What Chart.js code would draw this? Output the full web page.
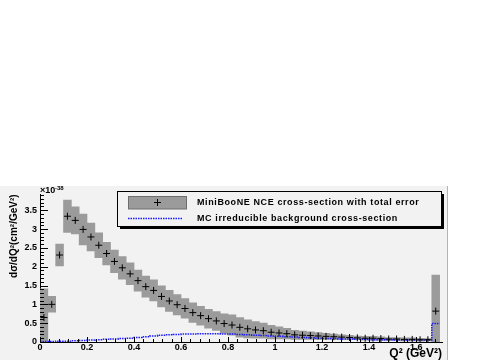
<!DOCTYPE html>
<html>
<head>
<meta charset="utf-8">
<script src="https://cdn.jsdelivr.net/npm/chart.js@4"></script>
<style>
    body { margin: 0; background: #fff; }
    #wrap { position: absolute; left: 0; top: 186px; width: 447px; height: 174px; background: #f2f2f2; border-right: 1px solid #b4b4b4; }
</style>
</head>
<body>
<div id="wrap"><canvas id="nce-chart" width="447" height="174"></canvas></div>
<script>
// Q^2 bin centres (GeV^2), bin width 1.7/51
var q2 = [0.0167, 0.05, 0.0833, 0.1167, 0.15, 0.1833, 0.2167, 0.25, 0.2833, 0.3167,
          0.35, 0.3833, 0.4167, 0.45, 0.4833, 0.5167, 0.55, 0.5833, 0.6167, 0.65,
          0.6833, 0.7167, 0.75, 0.7833, 0.8167, 0.85, 0.8833, 0.9167, 0.95, 0.9833,
          1.0167, 1.05, 1.0833, 1.1167, 1.15, 1.1833, 1.2167, 1.25, 1.2833, 1.3167,
          1.35, 1.3833, 1.4167, 1.45, 1.4833, 1.5167, 1.55, 1.5833, 1.6167, 1.65, 1.6833];
var binWidth = 0.0333;

// MiniBooNE NCE cross-section (x 1e-38 cm^2/GeV^2)
var xsec = [0.65, 1.00, 2.31, 3.34, 3.23, 2.99, 2.79, 2.57, 2.35, 2.14,
            1.97, 1.81, 1.63, 1.47, 1.37, 1.21, 1.09, 0.99, 0.89, 0.78,
            0.70, 0.62, 0.56, 0.49, 0.45, 0.39, 0.35, 0.32, 0.30, 0.26,
            0.24, 0.22, 0.19, 0.18, 0.17, 0.16, 0.15, 0.14, 0.13, 0.12,
            0.11, 0.10, 0.10, 0.09, 0.08, 0.08, 0.07, 0.07, 0.06, 0.06, 0.82];

// total error
var xsecErr = [0.76, 0.21, 0.29, 0.43, 0.36, 0.41, 0.37, 0.33, 0.30, 0.30,
               0.30, 0.29, 0.28, 0.28, 0.28, 0.28, 0.28, 0.27, 0.26, 0.26,
               0.25, 0.25, 0.25, 0.26, 0.27, 0.26, 0.24, 0.22, 0.20, 0.18,
               0.16, 0.14, 0.12, 0.11, 0.10, 0.09, 0.08, 0.07, 0.06, 0.06,
               0.05, 0.05, 0.05, 0.05, 0.04, 0.04, 0.04, 0.04, 0.04, 0.03, 0.96];

// MC irreducible background
var mcBkg = [0.01, 0.01, 0.02, 0.02, 0.03, 0.04, 0.05, 0.06, 0.07, 0.08,
             0.09, 0.10, 0.12, 0.14, 0.16, 0.18, 0.19, 0.20, 0.21, 0.21,
             0.22, 0.22, 0.22, 0.21, 0.21, 0.20, 0.19, 0.18, 0.17, 0.16,
             0.15, 0.14, 0.13, 0.12, 0.11, 0.10, 0.09, 0.09, 0.08, 0.08,
             0.07, 0.07, 0.06, 0.06, 0.06, 0.05, 0.05, 0.05, 0.05, 0.05, 0.49];

var legendLabels = ["MiniBooNE NCE cross-section with total error",
                    "MC irreducible background cross-section"];

var boldFont = '"Liberation Sans", Arial, Helvetica, sans-serif';

var errBoxes = q2.map(function (x, i) {
    return {x: x, y: [xsec[i] - xsecErr[i], xsec[i] + xsecErr[i]]};
});
var points = q2.map(function (x, i) { return {x: x, y: xsec[i]}; });
var mcSteps = [];
q2.forEach(function (x, i) {
    mcSteps.push({x: x - binWidth / 2, y: mcBkg[i]});
    mcSteps.push({x: x + binWidth / 2, y: mcBkg[i]});
});

// ROOT-like decorations: inside ticks, exponent label, boxed legend
var rootStyle = {
    id: 'rootStyle',
    afterDraw: function (chart) {
        var ctx = chart.ctx, area = chart.chartArea;
        var xs = chart.scales.x, ys = chart.scales.y;
        var k, v, p, len;
        ctx.save();
        ctx.strokeStyle = '#000';
        ctx.lineWidth = 1;
        ctx.beginPath();
        for (k = 0; k <= 39; k++) {
            v = k / 10;
            if (v > ys.max) break;
            p = Math.round(ys.getPixelForValue(v)) + 0.5;
            len = (k % 5 === 0) ? 8 : 4;
            ctx.moveTo(area.left, p);
            ctx.lineTo(area.left + len, p);
        }
        for (k = 0; k <= 42; k++) {
            v = k * 0.04;
            if (v > xs.max) break;
            p = Math.round(xs.getPixelForValue(v)) + 0.5;
            len = (k % 5 === 0) ? 5 : 3;
            ctx.moveTo(p, area.bottom);
            ctx.lineTo(p, area.bottom - len);
        }
        ctx.stroke();

        // x10^-38
        ctx.fillStyle = '#000';
        ctx.textBaseline = 'middle';
        ctx.textAlign = 'left';
        ctx.font = 'bold 9px ' + boldFont;
        ctx.fillText('\u00d710', 40, 5);
        ctx.font = 'bold 6px ' + boldFont;
        ctx.fillText('-38', 55, 2);

        // legend
        var lx = 117, ly = 5, lw = 324, lh = 35;
        ctx.fillStyle = '#000';
        ctx.fillRect(lx + 3, ly + 3, lw, lh);
        ctx.fillStyle = '#f2f2f2';
        ctx.fillRect(lx, ly, lw, lh);
        ctx.strokeRect(lx + 0.5, ly + 0.5, lw, lh);

        ctx.fillStyle = '#9b9b9b';
        ctx.fillRect(128, 10.5, 58, 12.5);
        ctx.strokeStyle = '#6e6e6e';
        ctx.strokeRect(128.5, 10.5, 58, 12.5);
        ctx.strokeStyle = '#000';
        ctx.beginPath();
        ctx.moveTo(154, 16.5); ctx.lineTo(161, 16.5);
        ctx.moveTo(157.5, 13); ctx.lineTo(157.5, 20);
        ctx.stroke();

        ctx.strokeStyle = '#1a1aff';
        ctx.lineWidth = 1.5;
        ctx.setLineDash([1.5, 1]);
        ctx.beginPath();
        ctx.moveTo(128, 32.5); ctx.lineTo(182, 32.5);
        ctx.stroke();
        ctx.setLineDash([]);

        ctx.fillStyle = '#000';
        ctx.font = 'bold 9px ' + boldFont;
        ctx.letterSpacing = '0.6px';
        ctx.fillText(legendLabels[0], 197, 16.5);
        ctx.fillText(legendLabels[1], 197, 32.5);
        ctx.restore();
    }
};

var nceChart = new Chart(document.getElementById('nce-chart'), {
    type: 'bar',
    data: {
        datasets: [
            {
                type: 'bar',
                label: legendLabels[0],
                data: errBoxes,
                backgroundColor: '#9b9b9b',
                borderWidth: 0,
                barPercentage: 1,
                categoryPercentage: 1,
                order: 3
            },
            {
                type: 'line',
                label: legendLabels[1],
                data: mcSteps,
                borderColor: '#1a1aff',
                borderWidth: 1.5,
                borderDash: [1.5, 1],
                pointRadius: 0,
                tension: 0,
                fill: false,
                order: 2
            },
            {
                type: 'line',
                label: 'points',
                data: points,
                showLine: false,
                pointStyle: 'cross',
                pointRadius: 3.5,
                pointBorderColor: '#000',
                pointBorderWidth: 1,
                order: 1
            }
        ]
    },
    options: {
        responsive: false,
        animation: false,
        devicePixelRatio: 1,
        layout: { padding: { top: 7, right: 1, left: 0, bottom: 0 } },
        plugins: {
            legend: { display: false },
            tooltip: { enabled: false }
        },
        scales: {
            x: {
                type: 'linear',
                min: 0,
                max: 1.71,
                offset: false,
                grid: { display: false, drawTicks: false },
                border: { display: true, color: '#000', width: 1 },
                ticks: {
                    stepSize: 0.2,
                    includeBounds: false,
                    autoSkip: false,
                    maxRotation: 0,
                    padding: 0,
                    color: '#000',
                    font: { family: boldFont, size: 9, weight: 'bold' },
                    callback: function (v) { return Math.round(v * 10) / 10; }
                },
                title: {
                    display: true,
                    text: 'Q\u00b2 (GeV\u00b2)',
                    align: 'end',
                    color: '#000',
                    font: { family: boldFont, size: 12, weight: 'bold', lineHeight: 1 },
                    padding: { top: 0, bottom: 0 }
                },
                afterFit: function (scale) { scale.height = 18; }
            },
            y: {
                min: 0,
                max: 3.92,
                grid: { display: false, drawTicks: false },
                border: { display: true, color: '#000', width: 1 },
                ticks: {
                    stepSize: 0.5,
                    includeBounds: false,
                    padding: 3,
                    color: '#000',
                    font: { family: boldFont, size: 9, weight: 'bold' },
                    callback: function (v) { return Math.round(v * 10) / 10; }
                },
                title: {
                    display: true,
                    text: 'd\u03c3/dQ\u00b2(cm\u00b2/GeV\u00b2)',
                    align: 'end',
                    color: '#000',
                    font: { family: boldFont, size: 10, weight: 'bold' },
                    padding: { top: 8, bottom: 0 }
                },
                afterFit: function (scale) { scale.width = 40; }
            }
        }
    },
    plugins: [rootStyle]
});
</script>
</body>
</html>
